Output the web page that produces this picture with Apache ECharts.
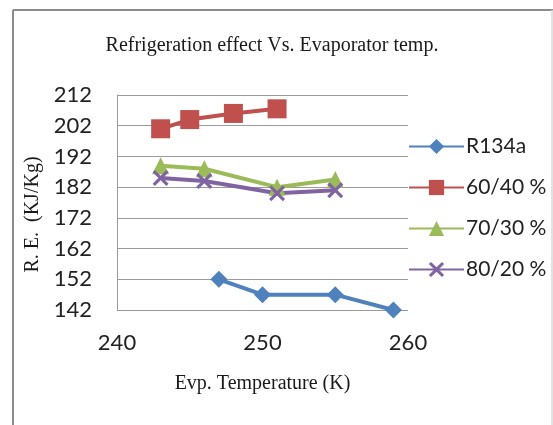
<!DOCTYPE html>
<html><head><meta charset="utf-8">
<script src="https://cdn.jsdelivr.net/npm/echarts@6/dist/echarts.min.js"></script>
<style>html,body{margin:0;padding:0;background:#fff}#c{width:553px;height:425px}</style>
</head><body><div id="c"></div>
<script>
const titleText = 'Refrigeration effect Vs. Evaporator temp.';
const xName = 'Evp. Temperature (K)';
const yName = 'R. E.  (KJ/Kg)';
const seriesNames = ['R134a', '60/40 %', '70/30 %', '80/20 %'];
const r134aT = [247, 250, 255, 259];
const r134aV = [152, 147, 147, 142];
const m6040T = [243, 245, 248, 251];
const m6040V = [201, 204, 206, 207.5];
const m7030T = [243, 246, 251, 255];
const m7030V = [189, 188, 182, 184.5];
const m8020T = [243, 246, 251, 255];
const m8020V = [185, 184, 180, 181];
const yTicks = [142, 152, 162, 172, 182, 192, 202, 212];
const xTicks = [240, 250, 260];

const colors = ['#4F81BD', '#C0504D', '#9BBB59', '#8064A2'];
const crossPath = 'path://M0,1.4 L1.4,0 L5,3.6 L8.6,0 L10,1.4 L6.4,5 L10,8.6 L8.6,10 L5,6.4 L1.4,10 L0,8.6 L3.6,5 Z';
const symbols = ['diamond', 'rect', 'triangle', crossPath];
const symSizes = [17, 19, 17, 16];
const pairs = (t, v) => t.map((x, i) => [x, v[i]]);
const data = [pairs(r134aT, r134aV), pairs(m6040T, m6040V), pairs(m7030T, m7030V), pairs(m8020T, m8020V)];

const chart = echarts.init(document.getElementById('c'));
chart.setOption({
  animation: false,
  backgroundColor: '#fff',
  title: {
    text: titleText, left: 267, textAlign: 'center', top: 31,
    textStyle: { fontFamily: 'Liberation Serif', fontSize: 20, fontWeight: 'normal', color: '#1a1a1a' }
  },
  graphic: [
    { type: 'line', shape: { x1: 13, y1: 10, x2: 13, y2: 425 }, style: { stroke: '#8c8c8c', lineWidth: 2 }, silent: true },
    { type: 'line', shape: { x1: 13, y1: 10, x2: 553, y2: 10 }, style: { stroke: '#8c8c8c', lineWidth: 2 }, silent: true },
    { type: 'line', shape: { x1: 552, y1: 10, x2: 552, y2: 425 }, style: { stroke: '#d9d9d9', lineWidth: 1.5 }, silent: true }
  ],
  legend: {
    orient: 'vertical', left: 403, top: 131,
    itemWidth: 55, itemHeight: 19, itemGap: 20,
    textStyle: { fontFamily: 'Lato', fontSize: 21, color: '#222', padding: [0, 0, 0, -3] },
    data: seriesNames
  },
  grid: { left: 117, right: 145, top: 95, bottom: 115 },
  xAxis: {
    type: 'value', min: xTicks[0], max: xTicks[xTicks.length - 1], interval: 10,
    name: xName, nameLocation: 'middle', nameGap: 64,
    nameTextStyle: { fontFamily: 'Liberation Serif', fontSize: 20, color: '#1a1a1a' },
    axisLine: { show: false }, axisTick: { show: false }, splitLine: { show: false },
    axisLabel: { margin: 22, fontFamily: 'Lato', fontSize: 22, color: '#222' }
  },
  yAxis: {
    type: 'value', min: yTicks[0], max: yTicks[yTicks.length - 1], interval: 10,
    name: yName, nameLocation: 'middle', nameGap: 72, nameRotate: 90,
    nameTextStyle: { fontFamily: 'Liberation Serif', fontSize: 20, color: '#1a1a1a', padding: [0, 24, 0, 0] },
    axisLine: { show: true, lineStyle: { color: '#9a9a9a', width: 1 } },
    axisTick: { show: false },
    splitLine: { show: true, lineStyle: { color: '#9a9a9a', width: 1 } },
    axisLabel: { margin: 25, fontFamily: 'Lato', fontSize: 22, color: '#222' }
  },
  series: seriesNames.map((n, i) => ({
    name: n, type: 'line', data: data[i],
    color: colors[i],
    symbol: symbols[i], symbolSize: symSizes[i], showAllSymbol: true,
    lineStyle: { width: 4, color: colors[i] },
    itemStyle: { color: colors[i] }
  }))
});
</script></body></html>
